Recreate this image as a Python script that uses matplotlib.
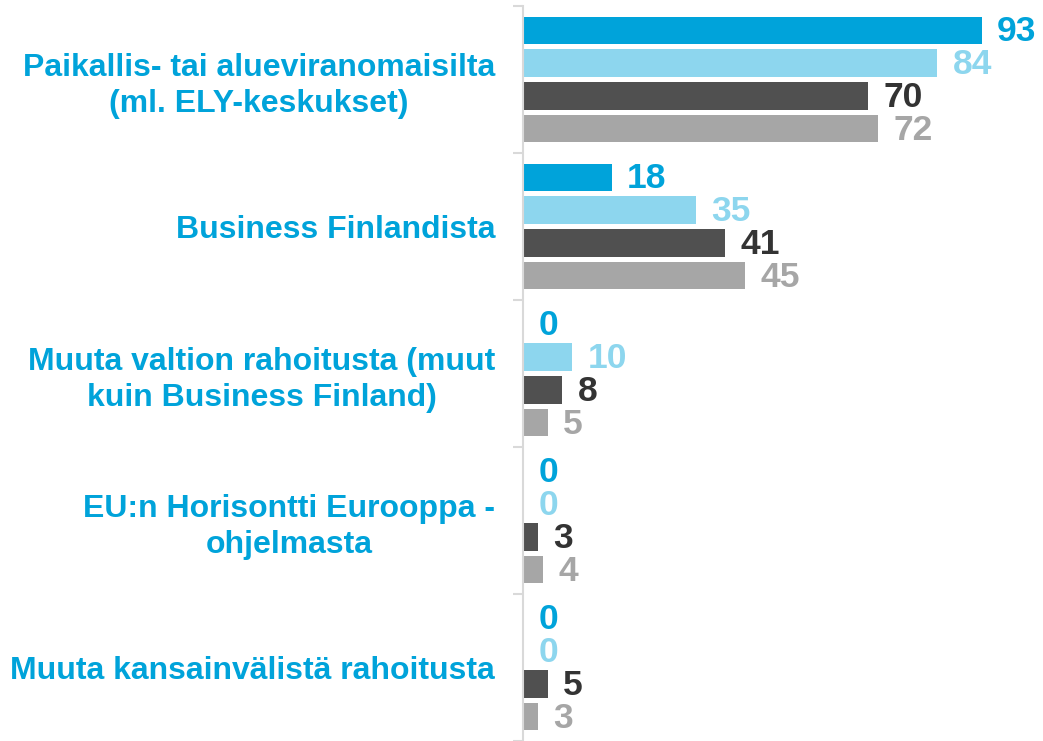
import matplotlib
matplotlib.use('Agg')
import matplotlib.pyplot as plt
import numpy as np

plt.rcParams['font.family'] = ['Liberation Sans', 'DejaVu Sans']

categories = [
    'Paikallis- tai alueviranomaisilta\n(ml. ELY-keskukset)',
    'Business Finlandista',
    'Muuta valtion rahoitusta (muut\nkuin Business Finland)',
    'EU:n Horisontti Eurooppa -\nohjelmasta',
    'Muuta kansainvälistä rahoitusta',
]
series_1 = [93, 18, 0, 0, 0]
series_2 = [84, 35, 10, 0, 0]
series_3 = [70, 41, 8, 3, 5]
series_4 = [72, 45, 5, 4, 3]

bar_colors = ['#00A3DA', '#8DD6EE', '#505050', '#A6A6A6']
text_colors = ['#00A3DA', '#8DD6EE', '#333333', '#A6A6A6']
cat_color = '#00A3DA'
axis_color = '#D9D9D9'

fig = plt.figure(figsize=(10.43, 7.41), dpi=100)
ax = fig.add_axes([523 / 1043, 0.0, 520 / 1043, 735 / 741])

y = np.arange(len(categories))
slot = 0.2237
height = 0.186
for j, vals in enumerate([series_1, series_2, series_3, series_4]):
    pos = y + (j - 1.5) * slot
    ax.barh(pos, vals, height=height, color=bar_colors[j])
    for p, v in zip(pos, vals):
        ax.annotate(str(v), (v, p), xytext=(11, -1), textcoords='offset points',
                    va='center', ha='left', fontsize=25.5, fontweight='bold',
                    color=text_colors[j])

ax.set_xlim(0, 105.4)
ax.set_ylim(4.5, -0.5)
ax.set_xticks([])

# group boundaries as ticks, category names as minor ticks
ax.set_yticks(np.arange(-0.5, 5, 1.0), labels=[''] * 6)
ax.set_yticks(y, labels=categories, minor=True)
ax.tick_params(axis='y', which='major', length=7, width=1.5, color=axis_color)
ax.tick_params(axis='y', which='minor', length=0, pad=20)
for lab in ax.get_yticklabels(minor=True):
    lab.set_fontsize(23)
    lab.set_fontweight('bold')
    lab.set_color(cat_color)
    lab.set_multialignment('center')
    lab.set_linespacing(1.27)

for s in ['top', 'right', 'bottom']:
    ax.spines[s].set_visible(False)
ax.spines['left'].set_color(axis_color)
ax.spines['left'].set_linewidth(1.5)

plt.savefig('out.png', dpi=100)
